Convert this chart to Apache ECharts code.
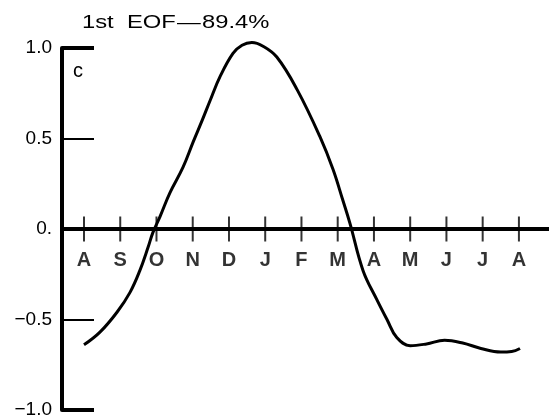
<!DOCTYPE html>
<html>
<head>
<meta charset="utf-8">
<script src="https://cdn.jsdelivr.net/npm/echarts@6/dist/echarts.min.js"></script>
<style>
  html, body { margin: 0; padding: 0; background: #fff; }
  #chart { width: 549px; height: 420px; }
</style>
</head>
<body>
<div id="chart"></div>
<script>
// Month labels along the zero line (Aug through Aug)
const months = ['A', 'S', 'O', 'N', 'D', 'J', 'F', 'M', 'A', 'M', 'J', 'J', 'A'];

// First EOF time coefficient: position in months from the first August, amplitude
const eofMonth = [0.00, 0.44, 0.91, 1.27, 1.54, 1.77, 1.90, 2.10, 2.37, 2.73, 3.01, 3.26,
                  3.48, 3.75, 4.11, 4.36, 4.63, 4.94, 5.32, 5.88, 6.51, 6.87, 7.14, 7.34,
                  7.70, 8.08, 8.36, 8.63, 9.00, 9.45, 9.95, 10.45, 10.95, 11.50, 11.80, 12.03];
const eofValue = [-0.64, -0.57, -0.46, -0.35, -0.23, -0.10, -0.02, 0.07, 0.20, 0.34, 0.48, 0.60,
                  0.71, 0.84, 0.97, 1.015, 1.03, 1.01, 0.95, 0.77, 0.51, 0.33, 0.16, 0.03,
                  -0.23, -0.39, -0.50, -0.60, -0.645, -0.635, -0.615, -0.63, -0.66, -0.68, -0.677, -0.66];

// Axis extents
const xMin = -0.607, xMax = 12.83;
const yMin = -1, yMax = 1, yStep = 0.5;

const curve = eofMonth.map((m, i) => [m, eofValue[i]]);
const monthTicks = months.map((_, i) => [i, 0]);

const FONT = '"Liberation Sans", Arial, Helvetica, sans-serif';
const titleFont = { fontFamily: FONT, fontSize: 19, fontWeight: 'normal', fill: '#000' };

const chart = echarts.init(document.getElementById('chart'), null, { renderer: 'canvas' });
chart.setOption({
  backgroundColor: '#ffffff',
  animation: false,
  graphic: [
    {
      // heading, set in a wide typeface
      type: 'text',
      x: 82,
      y: 13,
      scaleX: 1.25,
      style: {
        text: '{a|1st}{b|EOF}{c|—}{d|89.4%}',
        verticalAlign: 'top',
        rich: {
          a: Object.assign({ width: 36 }, titleFont),
          b: Object.assign({ width: 40 }, titleFont),
          c: Object.assign({ width: 20 }, titleFont),
          d: titleFont
        }
      }
    }
  ],
  title: {
    text: 'c',
    left: 73,
    top: 61,
    padding: 0,
    textStyle: { fontFamily: FONT, fontSize: 20, fontWeight: 'normal', color: '#000' }
  },
  grid: { left: 62, right: 0, top: 48, bottom: 10 },
  xAxis: {
    type: 'value',
    min: xMin,
    max: xMax,
    axisLine: { show: true, onZero: true, lineStyle: { color: '#000', width: 4 } },
    axisTick: { show: false },
    axisLabel: { show: false },
    splitLine: { show: false }
  },
  yAxis: [
    {
      type: 'value',
      min: yMin,
      max: yMax,
      interval: yStep,
      axisLine: { show: true, onZero: false, lineStyle: { color: '#000', width: 4 } },
      axisTick: { show: true, inside: true, length: 32, lineStyle: { color: '#000', width: 2 } },
      axisLabel: {
        show: true,
        margin: 10,
        color: '#000',
        fontFamily: FONT,
        fontSize: 19,
        formatter: function (v) {
          if (v === 0) return '0.';
          const s = Math.abs(v).toFixed(1);
          return v < 0 ? '\u2212' + s : s;
        }
      },
      splitLine: { show: false }
    },
    {
      // heavier end ticks at +1 and -1
      type: 'value',
      position: 'left',
      min: yMin,
      max: yMax,
      axisLine: { show: false, onZero: false },
      axisTick: { show: true, inside: true, length: 32, customValues: [yMin, yMax], lineStyle: { color: '#000', width: 4 } },
      axisLabel: { show: false },
      splitLine: { show: false }
    }
  ],
  series: [
    {
      type: 'scatter',
      data: monthTicks,
      symbol: 'rect',
      symbolSize: [2, 25],
      itemStyle: { color: '#000' },
      z: 3,
      label: {
        show: true,
        position: 'bottom',
        distance: 9,
        color: '#000',
        fontFamily: FONT,
        fontSize: 20,
        fontWeight: 'bold',
        formatter: function (p) { return months[p.dataIndex]; }
      }
    },
    {
      type: 'line',
      data: curve,
      smooth: 0.4,
      clip: false,
      showSymbol: false,
      lineStyle: { color: '#000', width: 3 },
      z: 4
    }
  ]
});
</script>
</body>
</html>
